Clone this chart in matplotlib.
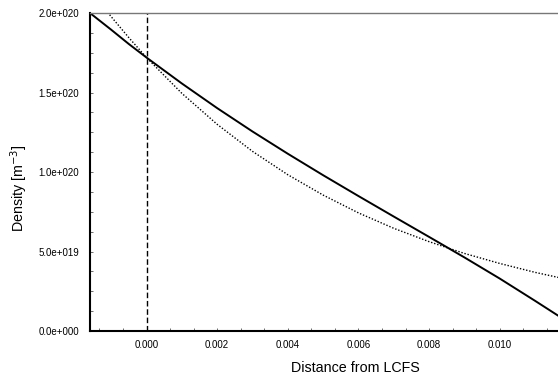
import matplotlib
matplotlib.use('Agg')
import matplotlib.pyplot as plt
from matplotlib.ticker import MultipleLocator, AutoMinorLocator, FuncFormatter
import numpy as np

plt.rcParams['font.family'] = ['Liberation Sans', 'DejaVu Sans']

# Solid profile
dist_solid = [-0.0016, -0.001, -0.0005, 0.000, 0.001, 0.002, 0.003, 0.004, 0.005,
              0.006, 0.007, 0.008, 0.009, 0.010, 0.011, 0.0117]
dens_solid = [2.00e20, 1.895e20, 1.805e20, 1.72e20, 1.557e20, 1.402e20, 1.255e20, 1.115e20, 0.98e20,
              0.849e20, 0.72e20, 0.592e20, 0.463e20, 0.33e20, 0.19e20, 0.09e20]

# Dotted fit
dist_fit = [-0.0011, -0.001, -0.0005, 0.000, 0.001, 0.002, 0.003, 0.004, 0.005, 0.006,
            0.007, 0.008, 0.009, 0.010, 0.011, 0.0117]
dens_fit = [2.005e20, 1.977e20, 1.845e20, 1.72e20, 1.495e20, 1.30e20, 1.13e20, 0.983e20, 0.855e20, 0.743e20,
            0.646e20, 0.562e20, 0.488e20, 0.425e20, 0.369e20, 0.335e20]

x_ticks = [0.000, 0.002, 0.004, 0.006, 0.008, 0.010]


def sci_fmt(v, pos):
    if v == 0:
        return '0.0e+000'
    e = int(np.floor(np.log10(abs(v))))
    m = v / 10 ** e
    return f'{m:.1f}e+{e:03d}'


fig = plt.figure(figsize=(5.58, 3.8), dpi=100)
ax = fig.add_axes([0.1613, 0.1289, 0.8387, 0.8368])

ax.plot(dist_solid, dens_solid, color='black', linewidth=1.4)
ax.plot(dist_fit, dens_fit, color='black', linewidth=1.0, linestyle=(0, (1, 1.3)))
ax.axvline(0.0, color='black', linewidth=1.0, linestyle=(0, (4, 2)))

ax.set_xlim(-0.0016, 0.01165)
ax.set_ylim(0, 2.0e20)

ax.set_xticks(x_ticks)
ax.set_xticklabels([f'{t:.3f}' for t in x_ticks])
ax.xaxis.set_minor_locator(AutoMinorLocator(3))
ax.yaxis.set_major_locator(MultipleLocator(0.5e20))
ax.yaxis.set_minor_locator(AutoMinorLocator(4))
ax.yaxis.set_major_formatter(FuncFormatter(sci_fmt))

ax.tick_params(which='both', direction='in', length=2.5, width=0.6, color='#555555',
               labelsize=7, pad=6.5)
ax.tick_params(axis='y', which='both', pad=8)

for s in ['left', 'bottom']:
    ax.spines[s].set_linewidth(1.5)
ax.spines['right'].set_visible(False)
ax.spines['top'].set_color('#777777')
ax.spines['top'].set_linewidth(1.0)

ax.set_xlabel('Distance from LCFS', fontsize=10.3)
ax.set_ylabel('Density [m$^{-3}$]', fontsize=10.3)
ax.xaxis.set_label_coords(0.567, -0.094)
ax.yaxis.set_label_coords(-0.128, 0.45)

fig.savefig('out.png', dpi=100)
